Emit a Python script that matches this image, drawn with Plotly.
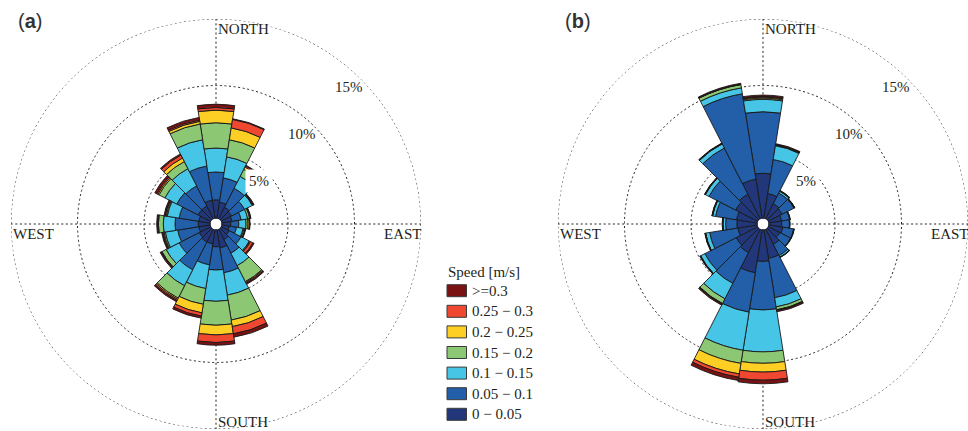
import math
import plotly.graph_objects as go

W, H = 968, 431

# Wind direction bins (degrees clockwise from north), 18 degree sectors
directions = [0, 18, 36, 54, 72, 90, 108, 126, 144, 162,
              180, 198, 216, 234, 252, 270, 288, 306, 324, 342]

speed_labels = ["0 \u2212 0.05", "0.05 \u2212 0.1", "0.1 \u2212 0.15", "0.15 \u2212 0.2",
                "0.2 \u2212 0.25", "0.25 \u2212 0.3", ">=0.3"]
speed_colors = ["#22367a", "#235ea8", "#46c5e6", "#8cc873",
                "#fdce23", "#f04830", "#7a1214"]

# Panel (a): frequency [%] of each speed class per direction
a_0_005 = [1.4, 1.25, 1.0, 0.9, 0.8, 0.7, 0.6, 0.7, 0.9, 1.4,
           1.3, 1.1, 1.1, 1.0, 0.9, 0.92, 0.9, 1.1, 1.1, 1.4]
a_005_01 = [2.1, 1.85, 1.6, 1.1, 0.7, 0.6, 0.55, 1.0, 1.15, 1.9,
            1.75, 1.6, 2.35, 1.7, 1.6, 1.75, 1.5, 1.8, 1.7, 2.6]
a_01_015 = [1.8, 1.6, 1.0, 0.65, 0.5, 0.55, 0.5, 0.7, 1.05, 1.7,
            2.35, 1.8, 1.35, 1.1, 0.95, 0.88, 0.9, 1.0, 1.45, 2.0]
a_015_02 = [1.9, 1.3, 0.6, 0.05, 0.15, 0.15, 0.07, 0.05, 1.35, 1.9,
            1.8, 1.2, 1.05, 0.35, 0.1, 0.37, 0.08, 0.5, 0.6, 1.2]
a_02_025 = [0.95, 0.9, 0.2, 0.02, 0.05, 0.1, 0.08, 0.05, 0.07, 0.5,
            0.73, 0.65, 0.1, 0.05, 0.07, 0.03, 0.07, 0.1, 0.3, 0.2]
a_025_03 = [0.2, 0.65, 0.1, 0.03, 0.02, 0.02, 0.02, 0.2, 0.08, 0.55,
            0.57, 0.25, 0.1, 0.02, 0.03, 0.02, 0.03, 0.1, 0.25, 0.1]
a_03_up = [0.25, 0.05, 0.05, 0.05, 0.03, 0.03, 0.03, 0.1, 0.07, 0.25,
           0.2, 0.15, 0.1, 0.08, 0.07, 0.08, 0.07, 0.15, 0.1, 0.2]

# Panel (b): frequency [%] of each speed class per direction
b_0_005 = [3.4, 1.9, 1.3, 1.2, 1.0, 1.0, 1.1, 1.0, 1.3, 2.2,
           2.4, 3.3, 2.0, 1.85, 1.5, 1.55, 1.6, 1.9, 2.1, 3.0]
b_005_01 = [4.63, 2.6, 0.9, 1.0, 0.62, 0.58, 0.82, 0.92, 0.95, 3.0,
            3.65, 3.0, 2.6, 2.65, 2.15, 0.85, 1.6, 2.25, 3.9, 6.5]
b_01_015 = [0.93, 1.05, 0.15, 0.03, 0.03, 0.02, 0.03, 0.03, 0.13, 0.7,
            3.15, 2.9, 1.3, 0.35, 0.3, 0.2, 0.22, 0.3, 0.35, 0.45]
b_015_02 = [0.09, 0.05, 0.02, 0.01, 0, 0, 0, 0, 0.02, 0.22,
            0.86, 1.0, 0.4, 0.02, 0.02, 0.02, 0.02, 0.02, 0.02, 0.25]
b_02_025 = [0.07, 0.02, 0.01, 0.01, 0, 0, 0, 0, 0, 0.03,
            0.66, 0.8, 0.03, 0.01, 0.01, 0.01, 0.01, 0.01, 0.01, 0.02]
b_025_03 = [0.06, 0.02, 0.01, 0.01, 0, 0, 0, 0, 0, 0.03,
            0.61, 0.25, 0.03, 0.01, 0.01, 0.01, 0.01, 0.01, 0.01, 0.02]
b_03_up = [0.1, 0.06, 0.03, 0.02, 0.02, 0.02, 0.02, 0.02, 0.02, 0.09,
           0.27, 0.25, 0.08, 0.03, 0.03, 0.02, 0.02, 0.03, 0.03, 0.06]

ring_values = [5, 10, 15]
ring_labels = ["5%", "10%", "15%"]
compass_labels = ["NORTH", "EAST", "SOUTH", "WEST"]

panels = [
    {"name": "polar", "label": "a", "cx": 216, "cy": 224,
     "classes": [a_0_005, a_005_01, a_01_015, a_015_02, a_02_025, a_025_03, a_03_up]},
    {"name": "polar2", "label": "b", "cx": 763, "cy": 224,
     "classes": [b_0_005, b_005_01, b_01_015, b_015_02, b_02_025, b_025_03, b_03_up]},
]

R_OUT = 205      # pixel radius of the 15 % ring
HOLE_PX = 5.5    # white hole in the middle
R_MAX = 15

SERIF = "Liberation Serif, Times New Roman, serif"
SANS = "Liberation Sans, Arial, sans-serif"
TXT = "#231f20"
GRID = "#222"
DASH = "2px,2.6px"


def px_x(x):
    return x / W


def px_y(y):
    return (H - y) / H


def ring_px(v):
    return HOLE_PX + (R_OUT - HOLE_PX) * v / R_MAX


fig = go.Figure()
annotations = []
shapes = []

layout_polars = {}
for p in panels:
    for vals, color, lab in zip(p["classes"], speed_colors, speed_labels):
        fig.add_trace(go.Barpolar(
            r=vals, theta=directions, width=[18] * len(directions),
            name=lab, marker=dict(color=color, line=dict(color="#1a1a1a", width=0.9)),
            subplot=p["name"], showlegend=False, hoverinfo="skip",
        ))
    # dashed outer ring (the axis line itself can only be solid)
    ring_theta = list(range(0, 361, 2))
    fig.add_trace(go.Scatterpolar(
        r=[R_MAX] * len(ring_theta), theta=ring_theta, mode="lines",
        line=dict(color=GRID, width=0.9, dash=DASH),
        subplot=p["name"], showlegend=False, hoverinfo="skip", cliponaxis=False,
    ))
    cx, cy = p["cx"], p["cy"]
    layout_polars[p["name"]] = dict(
        domain=dict(x=[px_x(cx - R_OUT), px_x(cx + R_OUT)],
                    y=[px_y(cy + R_OUT), px_y(cy - R_OUT)]),
        hole=HOLE_PX / R_OUT,
        bgcolor="rgba(0,0,0,0)",
        barmode="stack",
        radialaxis=dict(range=[0, R_MAX], tickvals=ring_values[:-1], showticklabels=False,
                        ticks="", showline=False, gridcolor=GRID, gridwidth=0.9,
                        griddash=DASH),
        angularaxis=dict(rotation=90, direction="clockwise", tickvals=[0, 90, 180, 270],
                         showticklabels=False, ticks="", showline=False,
                         gridcolor=GRID, gridwidth=0.9, griddash=DASH),
    )

    # compass labels sitting on the outer ring
    fs = 15
    annotations += [
        dict(x=px_x(cx), y=px_y(cy - R_OUT), text=compass_labels[0], xanchor="left",
             yanchor="top", font=dict(family=SERIF, size=fs, color=TXT)),
        dict(x=px_x(cx + R_OUT + 3), y=px_y(cy), text=compass_labels[1], xanchor="right",
             yanchor="top", font=dict(family=SERIF, size=fs, color=TXT)),
        dict(x=px_x(cx), y=px_y(cy + R_OUT + 3), text=compass_labels[2], xanchor="left",
             yanchor="bottom", font=dict(family=SERIF, size=fs, color=TXT)),
        dict(x=px_x(cx - R_OUT), y=px_y(cy), text=compass_labels[3], xanchor="left",
             yanchor="top", font=dict(family=SERIF, size=fs, color=TXT)),
    ]
    # ring labels along the 45 degree line
    for v, t in zip(ring_values, ring_labels):
        rp = ring_px(v)
        ax = cx + rp * math.sin(math.radians(45))
        ay = cy - rp * math.cos(math.radians(45))
        ann = dict(x=px_x(ax + 4), y=px_y(ay - 2), text=t, xanchor="right", yanchor="top",
                   font=dict(family=SERIF, size=15, color=TXT))
        if v == ring_values[0]:
            ann.update(x=px_x(ax + 6), y=px_y(ay - 4), bgcolor="white", borderpad=3)
        annotations.append(ann)
    # panel letter
    annotations.append(dict(x=px_x(cx - 200), y=px_y(8), text="(<b>%s</b>)" % p["label"],
                            xanchor="left", yanchor="top",
                            font=dict(family=SANS, size=20, color="#333")))

# speed legend
leg_x, leg_y0, leg_dy = 447, 290.7, 20.6
annotations.append(dict(x=px_x(leg_x - 1), y=px_y(272), text="Speed [m/s]", xanchor="left",
                        yanchor="middle", font=dict(family=SERIF, size=15, color=TXT)))
for i, (lab, color) in enumerate(zip(speed_labels[::-1], speed_colors[::-1])):
    yc = leg_y0 + i * leg_dy
    shapes.append(dict(type="rect", xref="paper", yref="paper",
                       x0=px_x(leg_x), x1=px_x(leg_x + 19.5),
                       y0=px_y(yc + 6), y1=px_y(yc - 6),
                       fillcolor=color, line=dict(color="#3a3a3a", width=1)))
    annotations.append(dict(x=px_x(leg_x + 23), y=px_y(yc), text=lab, xanchor="left",
                            yanchor="middle", font=dict(family=SERIF, size=15, color=TXT)))

for a in annotations:
    a.setdefault("xref", "paper")
    a.setdefault("yref", "paper")
    a.setdefault("showarrow", False)

fig.update_layout(
    width=W, height=H, autosize=False,
    margin=dict(l=0, r=0, t=0, b=0),
    paper_bgcolor="white", plot_bgcolor="white",
    annotations=annotations, shapes=shapes,
    **layout_polars,
)

fig.write_html("out.html")
